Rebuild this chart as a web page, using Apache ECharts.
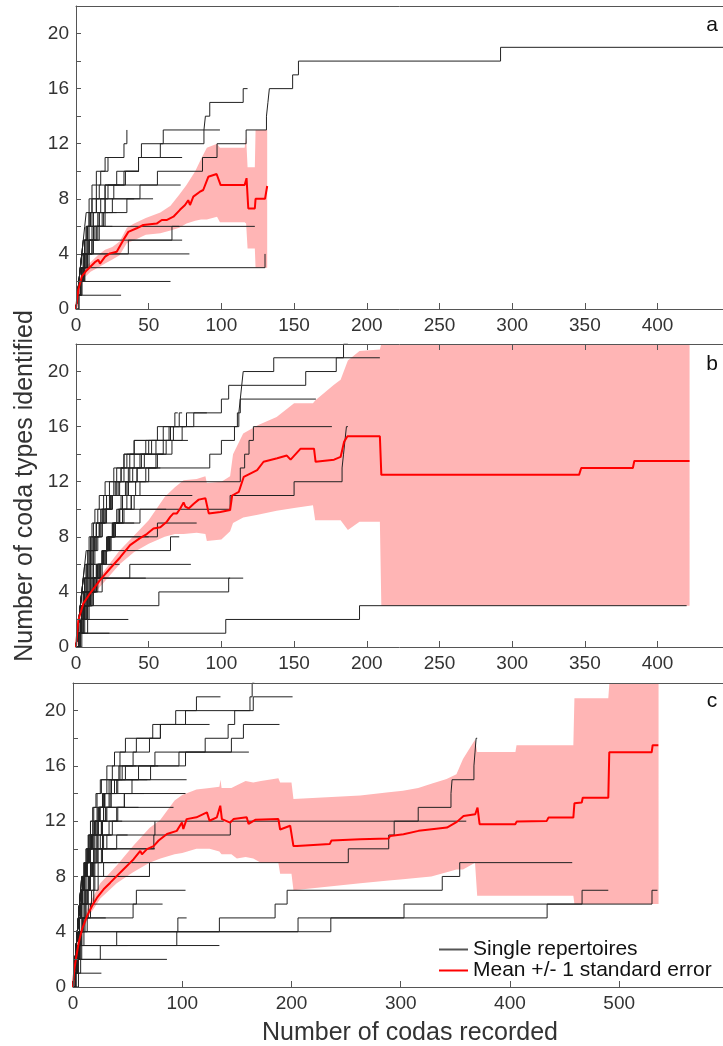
<!DOCTYPE html>
<html>
<head>
<meta charset="utf-8">
<script src="https://cdn.jsdelivr.net/npm/echarts@6.0.0/dist/echarts.min.js"></script>
<style>
html, body { margin: 0; padding: 0; background: #fff; }
#chart { width: 723px; height: 1046px; }
</style>
</head>
<body>
<div id="chart"></div>
<script>
// each repertoire: [last coda recorded, [coda number at which type 1, 2, 3 ... was first found]]
var repA = [
  [450, [1,2,3,5,7,9,12,17,22,56,87,97,117,131,132,133,149,153,292]],
  [118, [1,2,4,6,8,11,15,20,26,33,43,58,88,89,92,115]],
  [99, [1,2,3,4,6,8,11,14,20,34,43,45,60]],
  [35, [1,2,3,4,5,6,7,9,11,14,22,33,35]],
  [24, [1,2,3,4,5,7,9,11,14,17,20]],
  [73, [1,2,3,4,5,7,9,11,16,28,43]],
  [72, [1,2,4,6,9,12,16,20,44]],
  [53, [1,3,5,7,9,12,16,35]],
  [30, [1,2,3,4,6,8,10,14,20]],
  [22, [2,4,6,8,11,14,18]],
  [123, [1,2,3,4,6,8]],
  [73, [1,2,4,6,36]],
  [71, [1,3,5,7,9,66]],
  [78, [1,2,3,5]],
  [130, [1,2,4,130]],
  [65, [1,3]],
  [31, [1]],
  [25, [1,2,4,6,9,13]],
  [28, [1,3,5,8,11,15,19]],
  [40, [2,4,6,9,12,16,20,25]]
];
var repB = [
  [420, [4,103,195]],
  [36, [1,8]],
  [23, [3]],
  [115, [1,2,4,6,10]],
  [106, [1,3,5,57,105]],
  [48, [1,2,4,7,18]],
  [79, [1,2,4,6,9,37]],
  [71, [1,3,6,9,12,15,19,65]],
  [83, [1,3,5,8,11,14,18,22,56]],
  [187, [1,2,3,4,6,8,10,13,18,44,106,150,183,184,185,186]],
  [187, [1,2,3,4,5,6,8,10,12,15,19,23,28,33,40,60,76,100,105,158,179,184]],
  [209, [1,2,3,5,7,9,11,13,16,20,25,30,37,92,100,109,112,113,114,115,136]],
  [165, [1,2,3,4,6,8,10,12,14,17,21,26,31,37,48,73,111,113]],
  [176, [1,2,3,4,5,7,9,11,14,18,24,36,113,116,119,122]],
  [90, [1,2,3,4,5,6,7,9,11,13,16,20,26,33,55,65,81]],
  [70, [1,2,4,6,8,10,12,14,17,20,24,28,33,40,52,64,68]],
  [73, [1,2,3,5,7,9,11,13,16,19,25,36,42,47,60,67,71]],
  [77, [1,2,3,4,5,7,9,11,14,18,23,29,36,45,66]],
  [58, [2,4,7,10,13,16,19,22,25,28,31,34,42]],
  [80, [1,4,7,10,13,16,19,22,26,30,38]],
  [30, [1,2,3,4,6,12]],
  [50, [2,5,8,11,14,17,20,24]],
  [40, [2,4,6,9,12,15,18,21,25]],
  [62, [3,6,9,12,15,18,21,24,27,30]],
  [66, [2,4,6,9,12,15,18,22,26,30,35,41,48,55,62]],
  [60, [1,3,6,9,12,15,19,23,27,32,38,44,50,56]],
  [45, [1,3,5,8,11,14,18,22,27,33,40]],
  [55, [1,3,5,7,9,11,13,15,18,21,24,27,31,35,40]],
  [75, [2,5,8,11,14,17,20,23,26,29,32,35,39,44,50,56]]
];
var repC = [
  [457, [1,2,3,6,134,185,196,338,354]],
  [535, [1,3,6,95,206,303,530]],
  [490, [1,2,4,40,236,434,466]],
  [370, [1,2,3,4,6,8,11,19,70,252,289,294,316,346,347,367,368,369]],
  [360, [1,2,3,4,5,6,8,10,12,15,74,144]],
  [138, [1,2,3,4,5,6,7,9,11,14,40,75]],
  [134, [1,3,25]],
  [86, [1,7]],
  [26, [5]],
  [104, [1,2,3,5,96]],
  [82, [1,2,3,4,6,55]],
  [103, [1,2,3,4,5,7,58]],
  [70, [1,2,3,4,5,6,7,9]],
  [70, [1,2,3,4,5,6,7,8,19]],
  [75, [1,2,3,4,5,6,8,10,13,23]],
  [75, [1,2,3,4,5,6,8,10,13,16,20,23]],
  [92, [1,2,3,4,5,6,7,9,11,14,17,21,25]],
  [103, [1,2,3,4,5,6,8,10,12,15,18,22,28,34]],
  [104, [1,2,3,4,5,7,9,11,13,16,19,23,28,33,40]],
  [78, [1,2,3,4,5,6,8,10,12,14,17,20,24,29,35,43]],
  [161, [1,2,3,4,5,6,7,9,11,13,16,19,23,28,35,71,75]],
  [166, [1,2,3,4,5,6,8,10,12,14,17,20,24,29,35,42,55,70,80,94,162,164]],
  [135, [1,2,3,4,5,6,8,10,12,14,17,20,23,27,31,36,43,58,73,103,113]],
  [201, [1,2,3,4,5,6,8,10,12,14,17,20,24,29,38,60,97,121,142,148,165]],
  [189, [1,2,3,4,5,6,7,9,11,13,15,18,22,27,33,45,103,145,156]],
  [125, [1,2,3,4,5,6,7,8,10,12,14,16,19,22,26,31,38,48,80]],
  [60, [1,2,3,4,5,6,7,9,11,14,18,23,30]],
  [50, [1,2,3,4,5,7,9,12,16,21,28]],
  [40, [1,2,3,4,6,8,11,15,20,26]],
  [30, [1,2,3,5,9]],
  [50, [2,4,8]],
  [65, [1,2,3,4,6,8,11,14,18,22,27,33,40,47]],
  [55, [1,2,3,4,5,6,7,8,10,12,14,16,18,21,25]],
  [45, [2,4,6,8,10,12,14,16,18,20,23,27]],
  [48, [1,3,5,7,9,11,13,15,17,19,22,26,31]],
  [35, [2,3,5,7,9,11,13,16,19,22,25]],
  [58, [1,2,4,6,8,10,12,14,16,19,22,26,30,35,41,48]],
  [68, [2,4,6,8,11,14,17,20,23,27,31,36,41,47,54]],
  [40, [3,5,7,10,13,16,19,23,28]]
];

// mean curve [codas, types]
var meanA = [[0,0],[1.6,1.4],[3.9,2.35],[7.3,2.8],[13,3.4],[15.4,3.56],[16.5,3.3],[20,3.8],[23.4,4.04],[28,4.16],[32.5,5.0],[36,5.6],[41.7,5.86],[46.3,6.1],[55.5,6.2],[59,6.46],[62.3,6.46],[67,6.7],[71.5,7.2],[75,7.55],[77.2,7.9],[78.4,7.55],[80.7,8.16],[85,8.5],[87.5,8.64],[91,9.6],[96.7,9.8],[98,9.8],[99.5,9.0],[116,9.0],[117.3,9.5],[118.5,7.3],[123,7.3],[123.5,8.0],[130,8.0],[131.5,8.93]];
var meanB = [[0,0],[1.6,1.94],[5,3.15],[9.7,3.9],[16.5,4.85],[23.4,5.7],[30.3,6.5],[37.2,7.4],[44,7.9],[48.7,8.2],[53.3,8.6],[58,8.7],[60.2,8.9],[62.5,9.1],[64.8,9.45],[67,9.7],[69.4,9.7],[71.7,10.06],[74,10.5],[75.2,10.2],[77.5,10.06],[81,10.4],[84.4,10.7],[89,10.8],[91.3,9.7],[99.3,9.8],[106,9.94],[107.4,11.0],[112,11.27],[115.4,12.36],[124.6,12.85],[129,13.45],[138.4,13.7],[145,13.9],[147.6,13.6],[154.5,14.4],[163.7,14.4],[164.8,13.45],[177.5,13.6],[182,13.8],[184.4,14.9],[186.7,15.3],[209,15.3],[210,12.5],[346,12.5],[347.5,13],[383,13],[384,13.5],[422,13.5]];
var meanC = [[0,0],[1.2,1.26],[3,2.2],[5.2,3.2],[8.2,4.16],[12.8,5.13],[17.4,5.86],[22,6.46],[28,7.07],[34.1,7.55],[40.2,8.04],[46.3,8.52],[52.4,9.0],[55.5,9.25],[61.6,9.85],[63.1,9.6],[67.7,9.98],[73.8,10.2],[78.4,10.6],[86,11.07],[95,11.3],[99.7,11.9],[101,11.43],[104,12.15],[113,12.28],[122.6,12.64],[125,12.03],[131.7,12.28],[134.8,13.12],[136.3,12.15],[143.9,11.9],[146.9,12.15],[159,12.28],[160.7,11.8],[166.8,12.1],[188,12.15],[189.6,11.4],[198.8,11.67],[201.8,10.2],[205,10.2],[235,10.34],[236.6,10.6],[262.8,10.7],[288.8,10.74],[290.3,10.93],[302.5,11.05],[316.3,11.3],[328.5,11.42],[342.3,11.54],[351.4,11.95],[357.5,12.38],[368.2,12.5],[370.3,12.99],[372.2,11.78],[404.8,11.78],[406.2,11.97],[433.7,12.02],[435.2,12.26],[458,12.26],[459,13.3],[465.7,13.35],[466.6,13.7],[490,13.7],[490.9,16.98],[529.7,16.98],[530.6,17.5],[535.8,17.5]];

// standard error band [codas, mean - 1 se, mean + 1 se]
var bandA = [[0,0,0],[5,2.2,2.9],[10,2.7,3.4],[15,3.0,3.9],[20,3.3,4.3],[25,3.6,4.5],[30,3.9,4.9],[35,4.8,5.9],[40,5.0,6.2],[48,5.4,6.6],[58,5.5,7.0],[65,5.7,7.5],[71,5.9,8.3],[76,6.2,9.0],[82,6.4,10.0],[86,6.5,10.9],[90,6.5,11.7],[97,6.7,12.0],[99,6.3,11.7],[116,6.3,11.7],[117,6.2,12.5],[118,4.4,10.3],[123,4.4,10.3],[123.5,3.0,13.0],[131.5,3.0,13.0]];
var bandB = [[0,0,0],[5,2.9,3.4],[10,3.6,4.2],[20,4.8,5.6],[30,6.0,7.0],[40,6.9,8.1],[50,7.5,9.2],[61,8.0,10.9],[68,8.2,11.6],[74,8.2,12.1],[83,8.3,12.2],[89,8.2,12.4],[90,7.7,11.9],[100,7.8,12.0],[106,8.4,12.4],[108,9.0,14.0],[115,9.4,15.5],[125,9.6,16.1],[138,9.9,16.7],[150,10.1,17.7],[163,10.3,17.7],[164.5,9.2,17.9],[177,9.2,19.0],[182,9.2,19.4],[187,8.5,20.8],[195,9.1,21.5],[209,9.1,21.6],[210,3,22],[422,3,22]];
var bandC = [[0,0,0],[5,2.9,3.5],[10,4.3,5.0],[15,5.2,6.0],[25,6.4,7.5],[40,7.5,8.8],[55,8.3,10.2],[70,9.0,11.5],[80,9.3,12.1],[93,9.6,13.5],[100,9.7,13.9],[113,10.0,14.3],[125,10.0,14.4],[134,9.8,14.5],[135,9.7,15.0],[136,9.6,14.4],[145,9.6,14.4],[150,9.3,14.6],[158,9.4,14.9],[165,9.3,14.8],[172,9.0,14.9],[188,9.0,15.1],[189.6,8.2,14.8],[200,8.2,14.8],[201.8,7.0,13.6],[263,7.5,13.85],[289,7.7,14.1],[302,7.8,14.2],[316,7.9,14.4],[328,8.0,14.7],[342,8.3,15.05],[351,8.5,15.4],[357,8.5,16.5],[368,9.0,17.9],[370,6.6,17.0],[405,6.6,17.0],[406,6.6,17.5],[458,6.6,17.5],[459,6.0,20.9],[490,6.0,20.9],[491,6.0,22],[536,6.0,22]];

var yTicks = [0, 4, 8, 12, 16, 20];

var panels = [
  { reps: repA, mean: meanA, band: bandA, xMax: 445, xStep: 50, left: 76, top: 6, width: 647, height: 303, letter: 'a', letterY: 25, topTicks: null },
  { reps: repB, mean: meanB, band: bandB, xMax: 445, xStep: 50, left: 76, top: 344, width: 647, height: 303, letter: 'b', letterY: 364, topTicks: [200, 250, 300, 350, 400] },
  { reps: repC, mean: meanC, band: bandC, xMax: 595, xStep: 100, left: 73, top: 683, width: 650, height: 304, letter: 'c', letterY: 701, topTicks: null }
];

var axisColor = '#555';
var labelColor = '#333';
var font = 'Liberation Sans, Arial, sans-serif';

function repertoireLine(rep) {
  var pts = [[0, 0]];
  rep[1].forEach(function (x, i) { pts.push([x, i + 1]); });
  pts.push([rep[0], rep[1].length]);
  return pts;
}

// band drawn once as a polygon: upper edge forward, lower edge back
function bandRenderer(band) {
  return function (params, api) {
    if (params.dataIndex !== 0) return null;
    var upper = band.map(function (b) { return api.coord([b[0], b[2]]); });
    var lower = band.map(function (b) { return api.coord([b[0], b[1]]); }).reverse();
    var rect = { x: params.coordSys.x, y: params.coordSys.y, width: params.coordSys.width, height: params.coordSys.height };
    var pts = echarts.graphic.clipPointsByRect(upper.concat(lower), rect);
    return { type: 'polygon', shape: { points: pts }, style: { fill: '#ffb5b5', stroke: null } };
  };
}

var grid = [], xAxis = [], yAxis = [], series = [], graphic = [];

panels.forEach(function (p, i) {
  grid.push({ left: p.left, top: p.top, width: p.width, height: p.height, containLabel: false, outerBoundsMode: 'none' });
  xAxis.push({
    type: 'value', gridIndex: i, min: 0, max: p.xMax, interval: p.xStep, z: 10,
    axisLine: { show: true, onZero: false, lineStyle: { color: axisColor, width: 1 } },
    axisTick: { show: true, inside: true, length: 6, lineStyle: { color: axisColor } },
    axisLabel: { fontSize: 19, color: labelColor, margin: 7, showMaxLabel: false },
    splitLine: { show: false }
  });
  xAxis.push({
    type: 'value', gridIndex: i, position: 'top', min: 0, max: p.xMax, interval: p.xStep, z: 10,
    axisLine: { show: true, onZero: false, lineStyle: { color: axisColor, width: 1 } },
    axisTick: p.topTicks ? { show: true, inside: true, length: 6, customValues: p.topTicks, lineStyle: { color: axisColor } } : { show: false },
    axisLabel: { show: false },
    splitLine: { show: false }
  });
  yAxis.push({
    type: 'value', gridIndex: i, min: 0, max: 22, interval: 2, z: 10,
    axisLine: { show: true, onZero: false, lineStyle: { color: axisColor, width: 1 } },
    axisTick: { show: true, inside: true, length: 5, lineStyle: { color: axisColor } },
    axisLabel: {
      fontSize: 19, color: labelColor, margin: 7,
      formatter: function (v) { return yTicks.indexOf(v) >= 0 ? String(v) : ''; }
    },
    splitLine: { show: false }
  });

  var xi = i * 2;
  series.push({
    type: 'custom', name: 'se band', xAxisIndex: xi, yAxisIndex: i, z: 1, silent: true,
    data: p.band, encode: { x: 0, y: [1, 2] },
    renderItem: bandRenderer(p.band)
  });
  p.reps.forEach(function (rep) {
    series.push({
      type: 'line', name: 'Single repertoires', xAxisIndex: xi, yAxisIndex: i, z: 3, silent: true,
      symbol: 'none', step: 'end', data: repertoireLine(rep),
      lineStyle: { color: '#222', width: 1 }, itemStyle: { color: '#333' }
    });
  });
  series.push({
    type: 'line', name: 'Mean +/- 1 standard error', xAxisIndex: xi, yAxisIndex: i, z: 4, silent: true,
    symbol: 'none', data: p.mean,
    lineStyle: { color: '#ff0000', width: 2 }, itemStyle: { color: '#ff0000' }
  });

  graphic.push({
    type: 'text', x: 712, y: p.letterY, z: 20,
    style: { text: p.letter, fontSize: 21, fill: '#111', align: 'center', verticalAlign: 'middle', fontFamily: font }
  });
});

graphic.push({
  type: 'text', x: 25, y: 486, rotation: Math.PI / 2, z: 20,
  style: { text: 'Number of coda types identified', fontSize: 25, fill: labelColor, align: 'center', verticalAlign: 'middle', fontFamily: font }
});
graphic.push({
  type: 'text', x: 410, y: 1033, z: 20,
  style: { text: 'Number of codas recorded', fontSize: 25, fill: labelColor, align: 'center', verticalAlign: 'middle', fontFamily: font }
});

var chart = echarts.init(document.getElementById('chart'), null, { renderer: 'canvas' });
chart.setOption({
  animation: false,
  backgroundColor: '#fff',
  textStyle: { fontFamily: font },
  grid: grid,
  xAxis: xAxis,
  yAxis: yAxis,
  legend: {
    data: [
      { name: 'Single repertoires', icon: 'rect', itemStyle: { color: '#555' } },
      { name: 'Mean +/- 1 standard error', icon: 'rect', itemStyle: { color: '#ff0000' } }
    ],
    orient: 'vertical', left: 434, top: 934, itemWidth: 29, itemHeight: 2, itemGap: 0,
    selectedMode: false,
    textStyle: { fontSize: 21, color: '#111', lineHeight: 21 }
  },
  graphic: graphic,
  series: series
});
</script>
</body>
</html>
